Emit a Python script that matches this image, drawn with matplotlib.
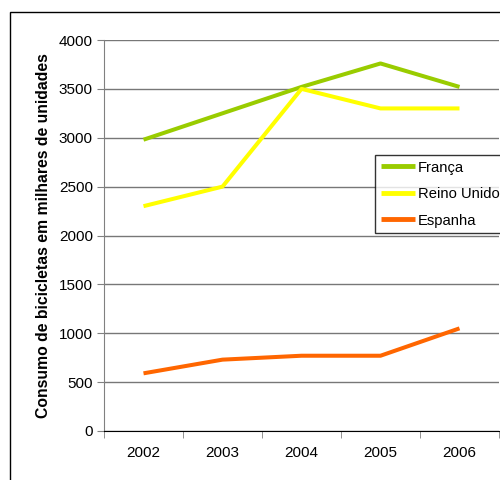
import matplotlib
matplotlib.use('Agg')
import matplotlib.pyplot as plt
from matplotlib.patches import Rectangle

plt.rcParams['font.family'] = ['Liberation Sans', 'DejaVu Sans']

anos = ['2002', '2003', '2004', '2005', '2006']
franca = [2980, 3250, 3520, 3760, 3520]
reino_unido = [2300, 2500, 3500, 3300, 3300]
espanha = [590, 730, 770, 770, 1050]

fig = plt.figure(figsize=(5, 4.8), dpi=100)
# outer frame of the chart area (cut by the image edge)
fig.patches.append(Rectangle((10/500, -0.1), 1.2, 1 - 12/480 + 0.1, transform=fig.transFigure,
                             fill=False, edgecolor='black', linewidth=1))

ax = fig.add_axes([104/500, 1 - 431/480, 395/500, 391/480])
x = range(len(anos))
ax.plot(x, franca, color='#99CC00', lw=2.9, label='França', solid_capstyle='butt')
ax.plot(x, reino_unido, color='#FFFF00', lw=2.9, label='Reino Unido', solid_capstyle='butt')
ax.plot(x, espanha, color='#FF6600', lw=2.9, label='Espanha', solid_capstyle='butt')

ax.set_xlim(-0.5, 4.5)
ax.set_ylim(0, 4000)
ax.set_yticks(range(0, 4001, 500))
ax.set_xticks(x)
ax.set_xticklabels(anos)
ax.set_xticks([i - 0.5 for i in range(6)], minor=True)
ax.tick_params(axis='x', which='major', length=0, pad=11, labelsize=11)
ax.tick_params(axis='x', which='minor', length=5, color='#808080', direction='out')
ax.tick_params(axis='y', length=5, color='#808080', labelsize=11, pad=3)
ax.yaxis.grid(True, color='#777777', lw=1)
ax.set_axisbelow(True)
for s in ['top', 'right']:
    ax.spines[s].set_visible(False)
ax.spines['left'].set_color('#808080')
ax.spines['bottom'].set_color('black')
ax.set_ylabel('Consumo de bicicletas em milhares de unidades', fontsize=11.3, fontweight='bold', labelpad=6)

leg = ax.legend(loc='upper left', bbox_to_anchor=(375/500, 1 - 155/480), bbox_transform=fig.transFigure,
                frameon=True, fancybox=False, shadow=False, fontsize=10.6, handlelength=2.35,
                handletextpad=0.2, borderpad=0.38, labelspacing=0.85, borderaxespad=0)
leg.get_frame().set_edgecolor('black')
leg.get_frame().set_linewidth(1)
for line in leg.get_lines():
    line.set_linewidth(3.5)

fig.savefig('out.png', dpi=100)
